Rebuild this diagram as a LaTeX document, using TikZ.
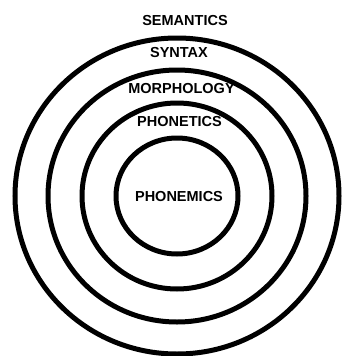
\documentclass[tikz,border=0pt]{standalone}
\usepackage{fontspec}
\setmainfont{Liberation Sans}
\begin{document}
\begin{tikzpicture}[x=1pt,y=-1pt,
  ring/.style={line width=5pt, black},
  lbl/.style={font=\fontsize{14.5}{16}\selectfont\bfseries, inner sep=0pt}]
\useasboundingbox (0,0) rectangle (341,356);
\fill[white] (0,0) rectangle (341,356);
\coordinate (c) at (177,196);
\draw[ring] (c) ellipse [x radius=162pt, y radius=158pt];
\draw[ring] (c) ellipse [x radius=129pt, y radius=126pt];
\draw[ring] (c) ellipse [x radius=95pt, y radius=93pt];
\draw[ring] (c) ellipse [x radius=61pt, y radius=58pt];
\node[lbl] (sem) at (185,21) {SEMANTICS};
\node[lbl] (syn) at (179,53) {SYNTAX};
\node[lbl] (mor) at (181.5,88.5) {MORPHOLOGY};
\node[lbl] (phon) at (179.5,122) {PHONETICS};
\node[lbl] (phonem) at (179,197) {PHONEMICS};
\end{tikzpicture}
\end{document}
